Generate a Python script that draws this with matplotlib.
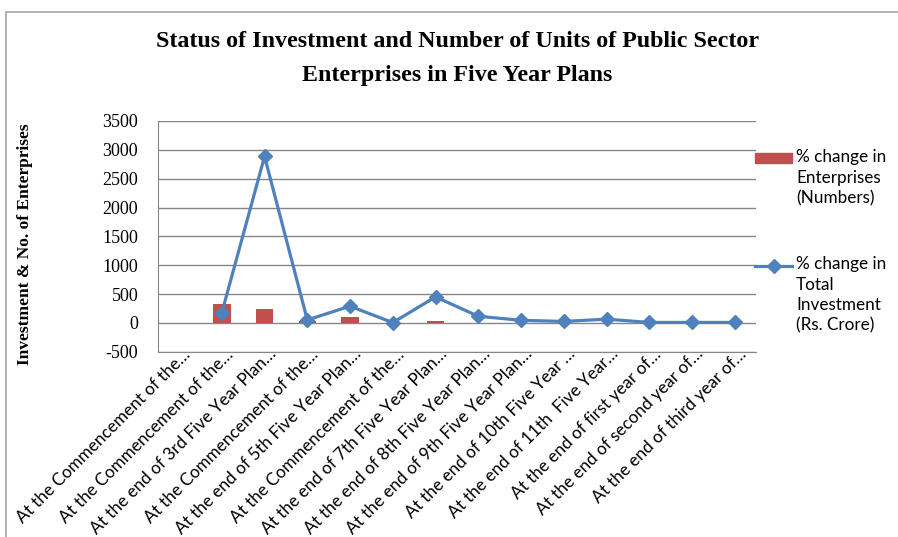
import matplotlib.pyplot as plt
import matplotlib.transforms as mtransforms
from matplotlib.patches import Rectangle
from matplotlib.lines import Line2D
import numpy as np

plt.rcParams["axes.unicode_minus"] = False

# plan stages (labels are cut off with an ellipsis as in the source sheet)
stages = [
    "At the Commencement of the…",
    "At the Commencement of the…",
    "At the end of 3rd Five Year Plan…",
    "At the Commencement of the…",
    "At the end of 5th Five Year Plan…",
    "At the Commencement of the…",
    "At the end of 7th Five Year Plan…",
    "At the end of 8th Five Year Plan…",
    "At the end of 9th Five Year Plan…",
    "At the end of 10th Five Year …",
    "At the end of 11th  Five Year…",
    "At the end of first year of…",
    "At the end of second year of…",
    "At the end of third year of…",
]
# % change in enterprises (numbers)
enterprises = [np.nan, 323, 247, 28, 99, 0, 38, 0, 0, 0, 0, 0, 0, 0]
# % change in total investment (Rs. crore)
investment = [np.nan, 175, 2885, 52, 289, 5, 450, 115, 45, 25, 65, 8, 8, 8]

bar_col = "#C0504D"
line_col = "#4F81BD"
grid_col = "#868686"

fig = plt.figure(figsize=(8.98, 5.37), dpi=100)
ax = fig.add_axes([0.1756, 0.345, 0.6664, 0.4297])

x = np.arange(len(stages))
ax.bar(x, enterprises, width=0.41, color=bar_col, zorder=2)
ax.plot(x, investment, color=line_col, lw=2.3, marker="D", ms=7.5,
        zorder=3)

ax.set_xlim(-0.5, len(stages) - 0.5)
ax.set_ylim(-500, 3500)
ax.set_yticks(np.arange(-500, 3501, 500))
ax.yaxis.grid(True, color=grid_col, lw=1)
ax.set_axisbelow(True)
for s in ["top", "right"]:
    ax.spines[s].set_visible(False)
for s in ["left", "bottom"]:
    ax.spines[s].set_color(grid_col)
ax.tick_params(length=0)
ax.tick_params(axis="y", pad=14)
for t in ax.get_yticklabels():
    t.set_fontfamily("Liberation Serif")
    t.set_fontsize(13)

ax.set_xticks(x)
ax.set_xticklabels(stages, rotation=45, ha="right", va="center",
                   rotation_mode="anchor", fontfamily="Lato", fontsize=12.3)
shift = mtransforms.ScaledTranslation(9 / 100, 5 / 100, fig.dpi_scale_trans)
for t in ax.get_xticklabels():
    t.set_transform(t.get_transform() + shift)

fig.text(0.028, 0.545, "Investment & No. of Enterprises", rotation=90,
         ha="center", va="center", fontfamily="Liberation Serif",
         fontweight="bold", fontsize=12.5)

fig.text(0.509, 0.922, "Status of Investment and Number of Units of Public Sector",
         ha="center", va="center", fontfamily="Liberation Serif",
         fontweight="bold", fontsize=17.3)
fig.text(0.509, 0.860, "Enterprises in Five Year Plans",
         ha="center", va="center", fontfamily="Liberation Serif",
         fontweight="bold", fontsize=17.3)

# legend drawn at the right, each key beside the first line of its text
fig.add_artist(Rectangle((755 / 898, 1 - 163 / 537), 37 / 898, 10 / 537,
                         transform=fig.transFigure, color=bar_col))
fig.text(796 / 898, 1 - 149 / 537, "% change in\nEnterprises\n(Numbers)",
         ha="left", va="top", fontfamily="Lato", fontsize=12.3,
         linespacing=1.35)
fig.add_artist(Line2D([755 / 898, 773.5 / 898, 792 / 898], [1 - 266 / 537] * 3,
                      transform=fig.transFigure, color=line_col, lw=2.3,
                      marker="D", ms=7.5, markevery=[1]))
fig.text(796 / 898, 1 - 256 / 537, "% change in\nTotal\nInvestment\n(Rs. Crore)",
         ha="left", va="top", fontfamily="Lato", fontsize=12.3,
         linespacing=1.35)

# chart border
fig.add_artist(Rectangle((6 / 898, -0.05), 1.0, 1 - 12 / 537 + 0.05,
                         transform=fig.transFigure, fill=False,
                         edgecolor="#A6A6A6", lw=1.2))

fig.savefig("out.png", dpi=100)
